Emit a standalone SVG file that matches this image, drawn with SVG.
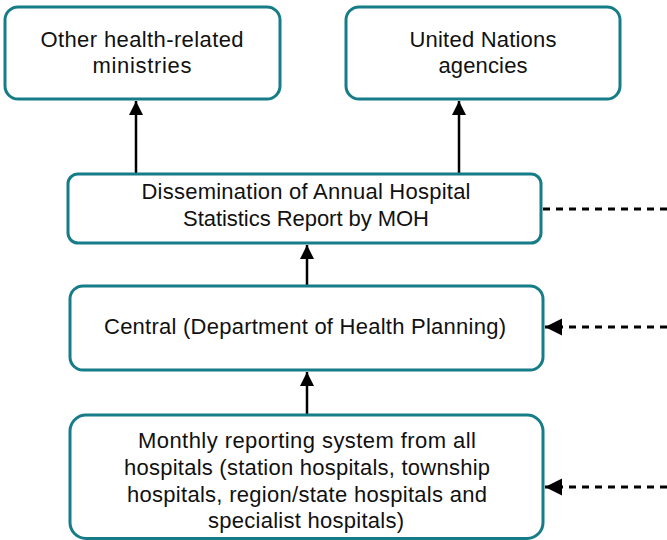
<svg xmlns="http://www.w3.org/2000/svg" width="667" height="540" viewBox="0 0 667 540">
<style>
.box{fill:#fff;stroke:#167D88;stroke-width:3}
.t{font-family:"Liberation Sans","DejaVu Sans",sans-serif;font-size:22px;fill:#111;text-anchor:middle}
.c{stroke:#000;stroke-width:2.5;fill:none}
.d{stroke:#000;stroke-width:3;fill:none;stroke-dasharray:7 6}
</style>
<defs>
<marker id="ah" markerUnits="userSpaceOnUse" markerWidth="16" markerHeight="16" viewBox="0 0 16 16" refX="14" refY="8" orient="auto">
<path d="M0,1 L14,8 L0,15 Z" fill="#000"/>
</marker>
<marker id="ahh" markerUnits="userSpaceOnUse" markerWidth="18" markerHeight="18" viewBox="0 0 18 18" refX="17" refY="9" orient="auto">
<path d="M0,0.5 L17,9 L0,17.5 Z" fill="#000"/>
</marker>
</defs>
<g id="connectors">
<line class="c" x1="136" y1="174" x2="136" y2="101" marker-end="url(#ah)"/>
<line class="c" x1="459" y1="174" x2="459" y2="101" marker-end="url(#ah)"/>
<line class="c" x1="307" y1="286" x2="307" y2="245" marker-end="url(#ah)"/>
<line class="c" x1="307" y1="415" x2="307" y2="372" marker-end="url(#ah)"/>
<line class="d" x1="543" y1="209" x2="667" y2="209"/>
<line class="d" x1="667" y1="327" x2="545" y2="327" marker-end="url(#ahh)"/>
<line class="d" x1="667" y1="487" x2="545" y2="487" marker-end="url(#ahh)"/>
</g>
<g id="node-ministries">
<rect class="box" x="5" y="7" width="275" height="92" rx="13"/>
<text class="t" x="142" y="47" textLength="203">Other health-related</text>
<text class="t" x="142" y="73" textLength="99">ministries</text>
</g>
<g id="node-un">
<rect class="box" x="346" y="7" width="274" height="92" rx="13"/>
<text class="t" x="483" y="47" textLength="147">United Nations</text>
<text class="t" x="483" y="73" textLength="89">agencies</text>
</g>
<g id="node-dissemination">
<rect class="box" x="68" y="174" width="473" height="69" rx="10"/>
<text class="t" x="306" y="199" textLength="329">Dissemination of Annual Hospital</text>
<text class="t" x="306" y="226" textLength="246">Statistics Report by MOH</text>
</g>
<g id="node-central">
<rect class="box" x="70" y="286" width="473" height="84" rx="13"/>
<text class="t" x="305" y="334" textLength="402">Central (Department of Health Planning)</text>
</g>
<g id="node-monthly">
<rect class="box" x="70" y="415" width="473" height="123.5" rx="16"/>
<text class="t" x="307" y="448" textLength="338">Monthly reporting system from all</text>
<text class="t" x="307" y="475" textLength="366">hospitals (station hospitals, township</text>
<text class="t" x="307" y="502" textLength="360">hospitals, region/state hospitals and</text>
<text class="t" x="306" y="528" textLength="196">specialist hospitals)</text>
</g>
</svg>
